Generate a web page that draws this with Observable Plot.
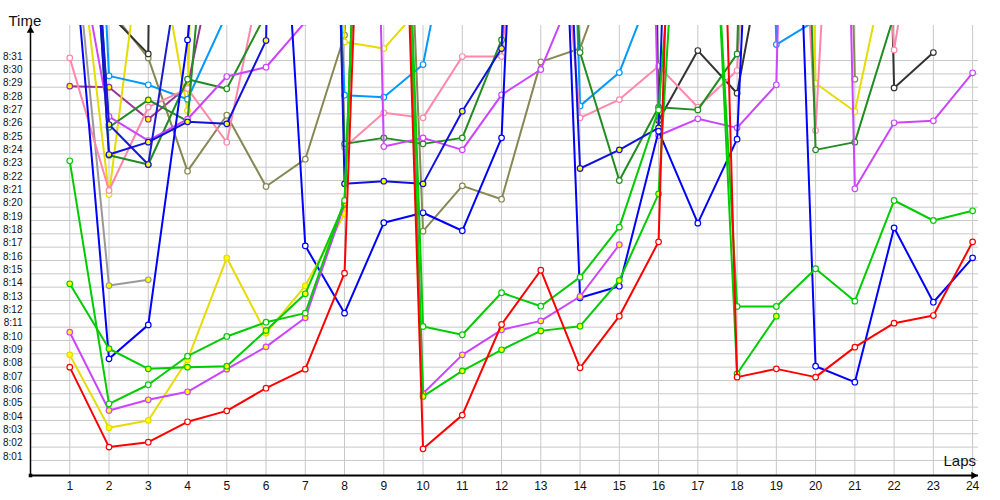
<!DOCTYPE html>
<html><head><meta charset="utf-8">
<script src="https://cdn.jsdelivr.net/npm/d3@7"></script>
<script src="https://cdn.jsdelivr.net/npm/@observablehq/plot@0.6"></script>
<style>html,body{margin:0;padding:0;background:#fff;}</style>
</head><body><div id="chart"></div>
<script>
// Lap numbers (x) and lap time tick labels (y, minutes after 8:00)
const laps = [1,2,3,4,5,6,7,8,9,10,11,12,13,14,15,16,17,18,19,20,21,22,23,24];
const lapLabels = ["1","2","3","4","5","6","7","8","9","10","11","12","13","14","15","16","17","18","19","20","21","22","23","24"];
const yTickValues = [1,2,3,4,5,6,7,8,9,10,11,12,13,14,15,16,17,18,19,20,21,22,23,24,25,26,27,28,29,30,31];
const yTickLabels = ["8:01","8:02","8:03","8:04","8:05","8:06","8:07","8:08","8:09","8:10","8:11","8:12","8:13","8:14","8:15","8:16","8:17","8:18","8:19","8:20","8:21","8:22","8:23","8:24","8:25","8:26","8:27","8:28","8:29","8:30","8:31"];

// Lap times per car, minutes after 8:00 (values above ~33.6 run off the top of the chart)
const greyCar     = [44, 14.12, 14.55, null, null, null, null, null, null, null, null, null, null, null, null, null, null, null, null, null, null, null, null, null];
const purpleCar   = [29.08, 29.0, 26.6, 29.05, 43, null, null, null, null, null, null, null, null, null, null, null, null, null, null, null, null, null, null, null];
const olive       = [null, 34.9, 31.2, 22.7, 26.9, 21.55, 23.6, 32.9, 90, 18.2, 21.6, 20.6, 30.9, 31.9, 40, 100, 100, 100, 100, 150, 29.6, null, null, null];
const darkGrey    = [null, 34.5, 31.5, 300, null, null, null, null, null, null, null, null, null, null, 200, 26.5, 31.75, 28.55, 44.4, 100, 150, 28.95, 31.6, null];
const yellowUpper = [45.8, 20.95, 44, 27.25, 150, null, 150, 32.4, 31.9, 35.2, null, null, null, null, null, null, null, null, 150, 29.3, 27.18, 41, null, null];
const lightBlue   = [90, 29.85, 29.18, 28.1, 34.5, 60, 100, 28.4, 28.25, 30.7, 45.7, 80, 120, 27.6, 30.1, 37.7, 60, 150, 32.2, 34.0, null, null, null, null];
const pink        = [31.2, 21.25, 27.5, 28.9, 24.87, 39, 120, 24.5, 27.08, 26.7, 31.3, 31.3, 60, 26.7, 28.07, 30.58, 27.5, 30.25, 80, 25.75, 80, 31.8, 50, null];
const darkGreenA  = [70, 26.0, 28.05, 26.45, 60, null, null, null, null, null, null, null, null, null, null, null, null, null, null, null, null, null, null, null];
const darkGreenB  = [70, 23.9, 23.2, 29.6, 28.88, 34.5, 120, 24.75, 25.2, 24.75, 25.2, 32.55, 80, 31.6, 22.0, 27.5, 27.3, 31.5, 120, 24.3, 24.88, 34.4, null, null];
const violetUpper = [43, 26.8, 25.0, 26.6, 29.8, 30.5, 33.9, 150, 24.55, 25.2, 24.3, 28.43, 30.33, 37.4, 150, 25.38, 26.63, 25.95, 29.18, 150, 21.38, 26.33, 26.48, 30.08];
const navyA       = [70, 26.2, 23.2, 42, null, null, null, null, null, null, null, null, null, null, null, null, null, null, null, null, null, null, null, null];
const navyB       = [70, 23.95, 24.88, 26.4, 26.25, 32.5, 150, 21.75, 21.95, 21.75, 27.2, 31.9, 90, 22.9, 24.3, 25.95, 120, null, null, null, null, null, null, null];
const blue        = [43, 8.62, 11.17, 32.55, 60, 66, 17.1, 12.05, 18.83, 19.58, 18.23, 25.2, 90, 13.2, 14.07, 25.7, 18.8, 25.1, 90, 8.07, 6.87, 18.45, 12.87, 16.2];
const yellowLower = [8.92, 3.45, 4.0, 8.55, 16.2, 10.55, 14.1, 19.5, 100, null, null, null, null, null, null, null, null, null, null, null, null, null, null, null];
const violetLower = [10.62, 4.75, 5.55, 6.15, 7.85, 9.52, 11.7, 20.2, 95, 6.02, 8.92, 10.8, 11.47, 13.3, 17.18, null, null, null, null, null, null, null, null, null];
const limeB       = [14.25, 9.38, 7.87, 8.0, 8.07, 10.75, 13.5, 20.3, 95, 5.8, 7.72, 9.3, 10.72, 11.07, 14.5, 21.0, 70, 7.5, 11.82, null, null, null, null, null];
const limeA       = [23.48, 5.25, 6.68, 8.82, 10.3, 11.37, 12.05, 20.5, 95, 11.05, 10.43, 13.58, 12.57, 14.75, 18.5, 27.3, 65, 12.55, 12.55, 15.38, 12.95, 20.5, 19.0, 19.73];
const red         = [8.0, 2.0, 2.37, 3.9, 4.72, 6.42, 7.85, 15.05, 95, 1.87, 4.4, 11.2, 15.27, 7.95, 11.82, 17.4, 115, 7.25, 7.87, 7.25, 9.5, 11.3, 11.87, 17.4];

const Y = "#ffff00", W = "#ffffff";
const series = [
  {values: greyCar, color: "#999999", fill: Y},
  {values: purpleCar, color: "#993399", fill: Y},
  {values: olive, color: "#888855", fill: W},
  {values: darkGrey, color: "#333333", fill: W},
  {values: yellowUpper, color: "#e6dc00", fill: W},
  {values: lightBlue, color: "#0099ff", fill: W},
  {values: pink, color: "#ff88aa", fill: W},
  {values: darkGreenA, color: "#228b22", fill: [W, W, Y, Y]},
  {values: darkGreenB, color: "#228b22", fill: W},
  {values: violetUpper, color: "#cc44ff", fill: W},
  {values: navyA, color: "#1a1ad0", fill: Y},
  {values: navyB, color: "#1010e0", fill: Y},
  {values: blue, color: "#0000ff", fill: W},
  {values: yellowLower, color: "#e6dc00", fill: Y},
  {values: violetLower, color: "#cc44ff", fill: Y},
  {values: limeB, color: "#00cc00", fill: Y},
  {values: limeA, color: "#00cc00", fill: W},
  {values: red, color: "#ff0000", fill: W}
];

const yMin = -0.13, yMax = 33.63, xMax = 24.15;

const marks = [
  Plot.gridX(laps, {stroke: "#c8c8c8", strokeOpacity: 1}),
  Plot.gridY(yTickValues, {stroke: "#c8c8c8", strokeOpacity: 1}),
  Plot.axisX(laps, {tickSize: 0, tickPadding: 6, fontSize: 12, tickFormat: (d, i) => lapLabels[i], label: null, fill: "#111"}),
  Plot.axisY(yTickValues, {tickSize: 0, tickPadding: 8, fontSize: 10, dy: -4, tickFormat: (d, i) => yTickLabels[i], label: null, fill: "#111"})
];

for (const s of series) {
  const rows = laps.map((lap, i) => ({lap, v: s.values[i], f: Array.isArray(s.fill) ? (s.fill[i] || W) : s.fill}));
  marks.push(Plot.line(rows, {x: "lap", y: "v", stroke: s.color, strokeWidth: 2, clip: true}));
  marks.push(Plot.dot(rows.filter(d => d.v != null), {x: "lap", y: "v", r: 2.8, stroke: s.color, strokeWidth: 1.2, fill: "f", clip: true}));
}

marks.push(
  Plot.ruleY([yMin], {stroke: "#000", strokeWidth: 2}),
  Plot.ruleX([0], {stroke: "#000", strokeWidth: 1.5}),
  Plot.dot([{x: 0, y: yMax}], {x: "x", y: "y", symbol: "triangle2", r: 3.6, fill: "#000", dy: 5}),
  Plot.dot([{x: xMax, y: yMin}], {x: "x", y: "y", symbol: "triangle2", r: 3.6, fill: "#000", rotate: 90, dx: -5}),
  Plot.dot([{x: 0, y: yMin}], {x: "x", y: "y", symbol: "square", r: 2, fill: "#000"}),
  Plot.text(["Time"], {frameAnchor: "top-left", dx: -22, dy: -10, textAnchor: "start", fontSize: 15, fill: "#111"}),
  Plot.text(["Laps"], {frameAnchor: "bottom-right", dx: -35, dy: -10, textAnchor: "start", fontSize: 15, fill: "#111"})
);

const chart = Plot.plot({
  width: 1000, height: 500,
  marginLeft: 30, marginRight: 22, marginTop: 25, marginBottom: 25,
  x: {domain: [0, xMax], axis: null},
  y: {domain: [yMin, yMax], axis: null},
  color: {type: "identity"},
  style: {fontFamily: "'Liberation Sans', Arial, sans-serif", background: "#fff", overflow: "visible"},
  marks
});
document.getElementById("chart").appendChild(chart);
</script>
</body></html>
